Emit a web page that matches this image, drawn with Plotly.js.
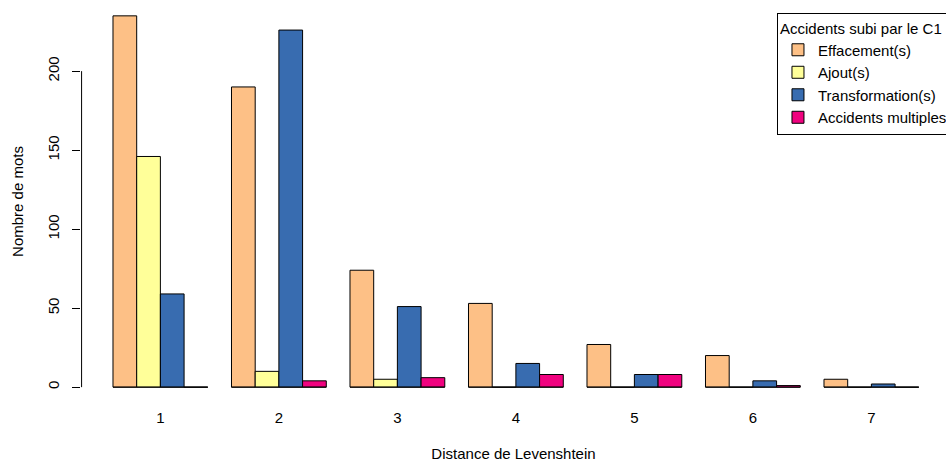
<!DOCTYPE html>
<html>
<head>
<meta charset="utf-8">
<script src="https://cdn.plot.ly/plotly-3.0.1.min.js"></script>
<style>html,body{margin:0;padding:0;background:#fff;}#chart{width:946px;height:462px;}</style>
</head>
<body>
<div id="chart"></div>
<script>
const distances = ["1", "2", "3", "4", "5", "6", "7"];
const seriesNames = ["Effacement(s)", "Ajout(s)", "Transformation(s)", "Accidents multiples"];
const effacement = [235, 190, 74, 53, 27, 20, 5];
const ajout = [146, 10, 5, 0, 0, 0, 0];
const transformation = [59, 226, 51, 15, 8, 4, 2];
const multiples = [0, 4, 6, 8, 8, 1, 0];
const colors = ["#FDC086", "#FFFF99", "#386CB0", "#F0027F"];
const yTicks = [0, 50, 100, 150, 200];

const series = [effacement, ajout, transformation, multiples];
const nS = series.length;
const groupStride = nS + 1; // R barplot beside=TRUE, space=c(0,1)
const FONT = "Liberation Sans, Arial, Helvetica, sans-serif";
const FS = 15;
const yRange = [-9.4, 244.4];
const xRange = [-0.350, 36.148];

const traces = series.map((vals, i) => ({
  type: "bar",
  name: seriesNames[i],
  x: distances.map((_, g) => g * groupStride + i + 1.5),
  y: vals,
  width: 1,
  marker: {color: colors[i], line: {color: "#000", width: 1}},
  hoverinfo: "y+name"
}));

// baseline segments under each group (R draws zero-height bar borders)
const bx = [], by = [];
distances.forEach((_, g) => {
  bx.push(g * groupStride + 1, g * groupStride + 1 + nS, null);
  by.push(0, 0, null);
});
traces.push({
  type: "scatter", mode: "lines", x: bx, y: by,
  line: {color: "#000", width: 1}, showlegend: false, hoverinfo: "skip",
  cliponaxis: false
});
// y axis line from first to last tick, at the left edge of the plot
const axX = xRange[0] + 0.025;
traces.push({
  type: "scatter", mode: "lines",
  x: [axX, axX], y: [yTicks[0], yTicks[yTicks.length - 1]],
  line: {color: "#000", width: 1}, showlegend: false, hoverinfo: "skip",
  cliponaxis: false
});

const layout = {
  width: 946, height: 462,
  margin: {l: 81, r: 0, t: 1, b: 60, autoexpand: false},
  paper_bgcolor: "#fff", plot_bgcolor: "#fff",
  font: {family: FONT, size: FS, color: "#000"},
  barmode: "overlay",
  showlegend: true,
  xaxis: {
    range: xRange,
    tickvals: distances.map((_, g) => g * groupStride + 1 + nS / 2),
    ticktext: distances,
    showline: false, showgrid: false, zeroline: false,
    ticks: "outside", ticklen: 2, tickcolor: "rgba(0,0,0,0)",
    tickfont: {family: FONT, size: FS},
    title: {text: "Distance de Levenshtein", font: {family: FONT, size: FS}, standoff: 28}
  },
  yaxis: {
    range: yRange,
    tickvals: yTicks,
    ticktext: yTicks.map(String),
    tickangle: -90,
    showline: false, showgrid: false, zeroline: false,
    ticks: "outside", ticklen: 8, tickcolor: "#000", tickwidth: 1,
    ticklabelstandoff: 7,
    tickfont: {family: FONT, size: FS},
    title: {text: "Nombre de mots", font: {family: FONT, size: FS}, standoff: 17}
  },
  legend: {
    x: 0.8046, y: 0.970, xanchor: "left", yanchor: "top",
    bordercolor: "#000", borderwidth: 1, bgcolor: "#fff",
    font: {family: FONT, size: FS},
    title: {text: "Accidents subi par le C1", font: {family: FONT, size: FS}},
    traceorder: "normal",
    itemclick: false, itemdoubleclick: false
  }
};

Plotly.newPlot("chart", traces, layout, {displayModeBar: false, staticPlot: true});
</script>
</body>
</html>
